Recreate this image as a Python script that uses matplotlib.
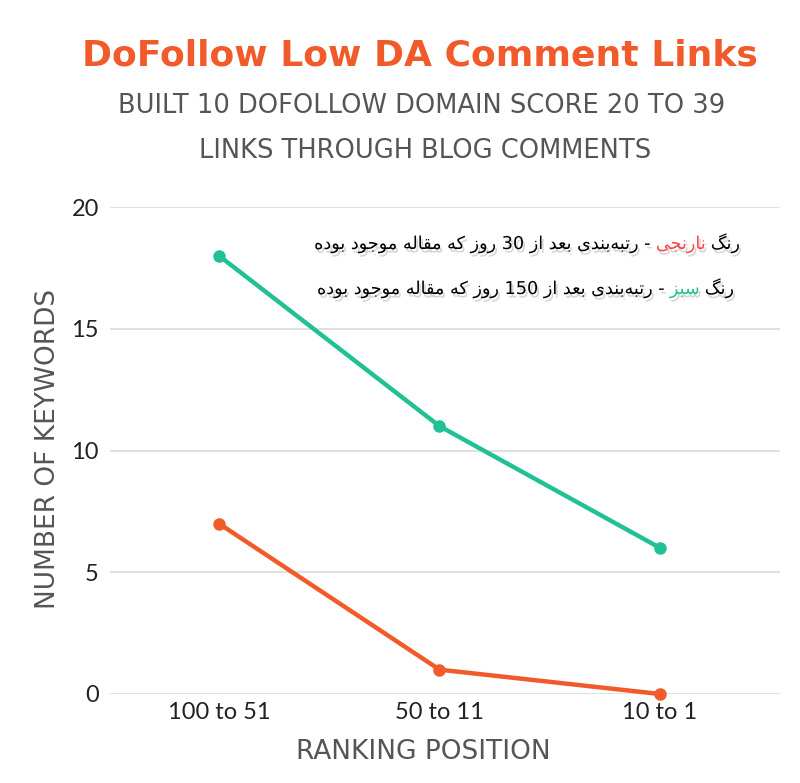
import matplotlib
matplotlib.use('Agg')
import matplotlib.pyplot as plt
import matplotlib.patheffects as pe

# ---------------- data ----------------
categories = ['100 to 51', '50 to 11', '10 to 1']
green_values = [18, 11, 6]     # ranking after 150 days
orange_values = [7, 1, 0]      # ranking after 30 days
y_ticks = [0, 5, 10, 15, 20]

title_text = 'DoFollow Low DA Comment Links'
subtitle_lines = ['BUILT 10 DOFOLLOW DOMAIN SCORE 20 TO 39',
                  'LINKS THROUGH BLOG COMMENTS']
x_label = 'RANKING POSITION'
y_label = 'NUMBER OF KEYWORDS'
note_orange = ['رنگ', 'نارنجی', '- رتبه‌بندی بعد از 30 روز که مقاله موجود بوده']
note_green = ['رنگ', 'سبز', '- رتبه‌بندی بعد از 150 روز که مقاله موجود بوده']

GREEN = '#22C195'
ORANGE = '#F15A2A'
GRAY = '#555555'

# ---------------- Arabic-script shaping (presentation forms) ----------------
FORMS = {  # isolated, final, initial, medial
    'ا': ('\uFE8D', '\uFE8E', None, None),
    'ب': ('\uFE8F', '\uFE90', '\uFE91', '\uFE92'),
    'ت': ('\uFE95', '\uFE96', '\uFE97', '\uFE98'),
    'ج': ('\uFE9D', '\uFE9E', '\uFE9F', '\uFEA0'),
    'د': ('\uFEA9', '\uFEAA', None, None),
    'ر': ('\uFEAD', '\uFEAE', None, None),
    'ز': ('\uFEAF', '\uFEB0', None, None),
    'س': ('\uFEB1', '\uFEB2', '\uFEB3', '\uFEB4'),
    'ع': ('\uFEC9', '\uFECA', '\uFECB', '\uFECC'),
    'ق': ('\uFED5', '\uFED6', '\uFED7', '\uFED8'),
    'ل': ('\uFEDD', '\uFEDE', '\uFEDF', '\uFEE0'),
    'م': ('\uFEE1', '\uFEE2', '\uFEE3', '\uFEE4'),
    'ن': ('\uFEE5', '\uFEE6', '\uFEE7', '\uFEE8'),
    'ه': ('\uFEE9', '\uFEEA', '\uFEEB', '\uFEEC'),
    'و': ('\uFEED', '\uFEEE', None, None),
    'ی': ('\uFBFC', '\uFBFD', '\uFBFE', '\uFBFF'),
    'ک': ('\uFB8E', '\uFB8F', '\uFB90', '\uFB91'),
    'گ': ('\uFB92', '\uFB93', '\uFB94', '\uFB95'),
}


def shape_word(w):
    out = []
    for i, c in enumerate(w):
        if c not in FORMS:
            if c != '\u200c':
                out.append(c)
            continue
        prev = w[i - 1] if i > 0 else None
        nxt = w[i + 1] if i + 1 < len(w) else None
        jp = prev in FORMS and FORMS[prev][2] is not None
        jn = FORMS[c][2] is not None and nxt in FORMS
        iso, fin, ini, med = FORMS[c]
        if jp and jn:
            out.append(med)
        elif jp:
            out.append(fin)
        elif jn:
            out.append(ini)
        else:
            out.append(iso)
    return ''.join(out)


def visual(s):
    toks = s.split(' ')
    res = []
    for t in toks:
        if any(c in FORMS for c in t):
            res.append(shape_word(t)[::-1])
        else:
            res.append(t)
    return ' '.join(res[::-1])


# ---------------- figure ----------------
W, H = 800, 783
fig = plt.figure(figsize=(W / 100, H / 100), dpi=100)
fig.patch.set_facecolor('white')

ax_l, ax_r, ax_t, ax_b = 110, 780, 207, 694
ax = fig.add_axes([ax_l / W, (H - ax_b) / H, (ax_r - ax_l) / W, (ax_b - ax_t) / H])

x = list(range(len(categories)))
ax.plot(x, green_values, color=GREEN, lw=3.2, marker='o', ms=8, clip_on=False, zorder=3)
ax.plot(x, orange_values, color=ORANGE, lw=3.2, marker='o', ms=8, clip_on=False, zorder=3)

ax.set_xlim(-0.494, 2.544)
ax.set_ylim(0, 20)
ax.set_yticks(y_ticks)
ax.set_yticklabels([str(v) for v in y_ticks], fontfamily='Lato', fontsize=17, color='#222222')
ax.set_xticks(x)
ax.set_xticklabels(categories, fontfamily='Lato', fontsize=17, color='#222222')
ax.tick_params(axis='both', length=0)
ax.tick_params(axis='y', pad=8)
ax.tick_params(axis='x', pad=6)
ax.grid(axis='y', color='#DDDDDD', lw=1.3)
ax.set_axisbelow(True)
for s in ax.spines.values():
    s.set_visible(False)

ax.set_xlabel(x_label, fontfamily='DejaVu Sans', fontsize=19, color=GRAY, va='center')
ax.xaxis.set_label_coords((423 - ax_l) / (ax_r - ax_l), -(752 - ax_b) / (ax_b - ax_t))
ax.set_ylabel(y_label, fontfamily='DejaVu Sans', fontsize=19, color=GRAY, va='center')
ax.yaxis.set_label_coords(-(ax_l - 48) / (ax_r - ax_l), (ax_b - 449) / (ax_b - ax_t))

# titles
fig.text(420 / W, 1 - 56 / H, title_text, ha='center', va='center',
         fontfamily='DejaVu Sans', fontweight='bold', fontsize=26, color=ORANGE)
fig.text(422 / W, 1 - 106 / H, subtitle_lines[0], ha='center', va='center',
         fontfamily='DejaVu Sans', fontsize=18.5, color=GRAY)
fig.text(425 / W, 1 - 151 / H, subtitle_lines[1], ha='center', va='center',
         fontfamily='DejaVu Sans', fontsize=18.5, color=GRAY)

# Persian notes, drawn right-to-left in pieces
shadow = [pe.SimplePatchShadow(offset=(1.5, -2.5), shadow_rgbFace='#888888', alpha=0.35), pe.Normal()]
renderer = fig.canvas.get_renderer()


def rtl_note(pieces, colors, x_right_px, y_base_px, size=12.7, gap=5):
    xr = x_right_px
    for p, c in zip(pieces, colors):
        t = fig.text(xr / W, 1 - y_base_px / H, visual(p), ha='right', va='baseline',
                     fontfamily='DejaVu Sans', fontsize=size, color=c, path_effects=shadow)
        bb = t.get_window_extent(renderer)
        xr = bb.x0 - gap


rtl_note(note_orange, ['black', '#FF4444', 'black'], 740, 249)
rtl_note(note_green, ['black', GREEN, 'black'], 734, 294)

fig.savefig('out.png', dpi=100, facecolor='white')
